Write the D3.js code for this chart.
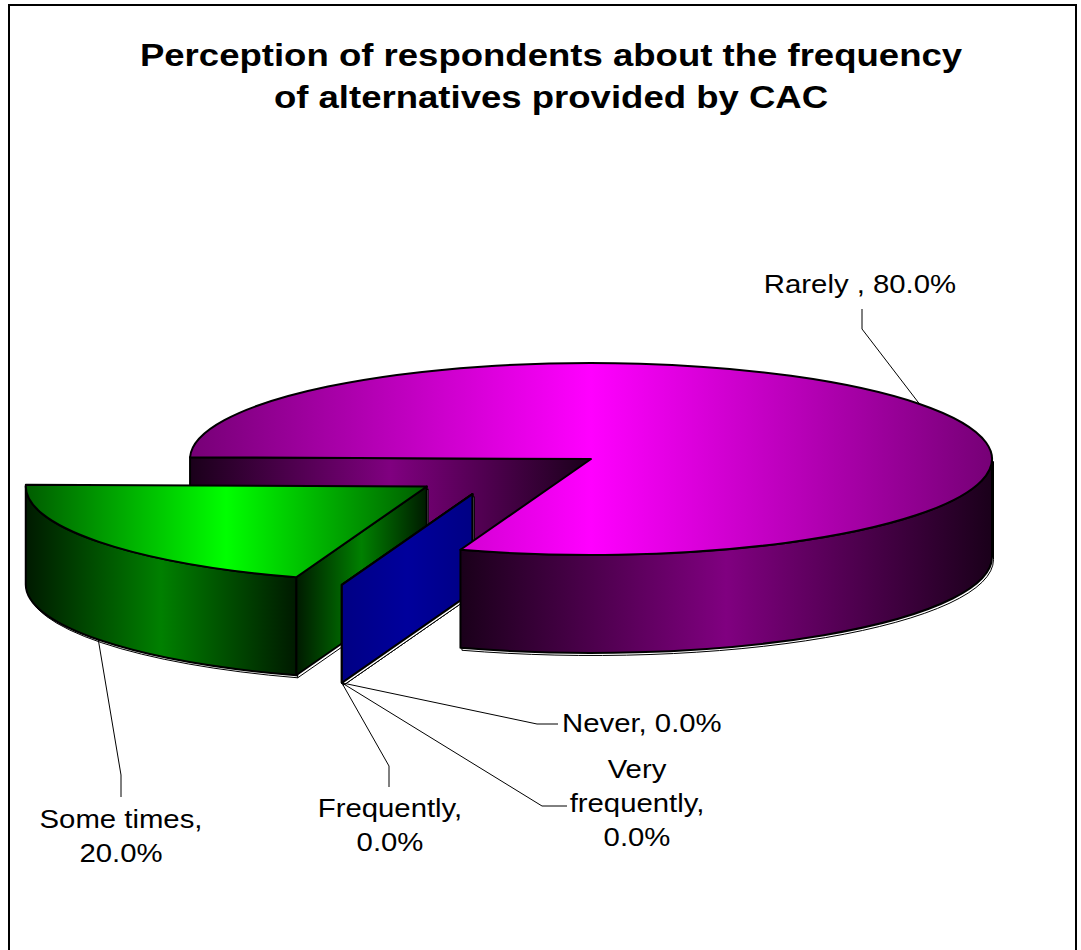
<!DOCTYPE html>
<html>
<head>
<meta charset="utf-8">
<script src="https://cdn.jsdelivr.net/npm/d3@7"></script>
<style>
  html, body { margin: 0; padding: 0; background: #fff; }
</style>
</head>
<body>
<svg id="chart" width="1081" height="950"></svg>
<script>
// Survey: how often CAC provides alternatives (share of respondents, %)
const categories = ["Very frequently", "Frequently", "Some times", "Rarely ", "Never"];
const shares = [0, 0, 20, 80, 0];
const titleLines = [
  "Perception of respondents about the frequency",
  "of alternatives provided by CAC"
];

// ---- styling ---------------------------------------------------------
const FONT = "'Liberation Sans', Arial, sans-serif";
const TEXT_SX = 1.15;                       // horizontal stretch of lettering
const geo = { cx: 591, cy: 459, rx: 401, ry: 96, depth: 98 };
const firstSliceDeg = 199;                  // rotation of first slice, clockwise from 12 o'clock

const blueStyle = { top: ["#000080", "#0000a4"], side: ["#000084", "#00009c"], explode: 0.47, turn: 20 };
const sliceStyle = {
  "Very frequently": blueStyle,
  "Frequently": blueStyle,
  "Some times": { top: ["#005c00", "#00ff00"], side: ["#001a00", "#008000"], explode: 0.5, turn: 0 },
  "Rarely ":    { top: ["#760076", "#ff00ff"], side: ["#1a001a", "#800080"], explode: 0, turn: 0 },
  "Never": blueStyle
};

// label placement: text anchor point, leader elbow and leader end
const labelLayout = {
  "Rarely ":         { anchor: "middle", x: 860, y: 293, elbow: [862, 329], end: [862, 309], from: "top" },
  "Never":           { anchor: "start",  x: 562, y: 732, elbow: [537, 724], end: [558, 724], from: "bottom" },
  "Very frequently": { anchor: "middle", x: 637, y: 778, elbow: [542, 806], end: [567, 806], from: "bottom", wrap: 150 },
  "Frequently":      { anchor: "middle", x: 390, y: 817, elbow: [389, 766], end: [389, 787], from: "bottom", wrap: 150 },
  "Some times":      { anchor: "middle", x: 121, y: 828, elbow: [121, 775], end: [121, 797], from: "bottom", wrap: 180 }
};
const LINE_H = 34;

// ---- setup -----------------------------------------------------------
const svg = d3.select("#chart");
const defs = svg.append("defs");
let gradCount = 0;
function gradient(stops) {
  const id = "shade" + (gradCount++);
  const g = defs.append("linearGradient").attr("id", id)
    .attr("x1", 0).attr("x2", 1).attr("y1", 0).attr("y2", 0);
  g.append("stop").attr("offset", 0).attr("stop-color", stops[0]);
  g.append("stop").attr("offset", 0.5).attr("stop-color", stops[1]);
  g.append("stop").attr("offset", 1).attr("stop-color", stops[0]);
  return `url(#${id})`;
}

// chart border
svg.append("rect")
  .attr("x", 9).attr("y", 5).attr("width", 1067).attr("height", 1000)
  .attr("fill", "none").attr("stroke", "#000").attr("stroke-width", 2);

// title
const titleG = svg.append("g")
  .attr("font-family", FONT).attr("font-weight", "bold").attr("font-size", 31.5)
  .attr("fill", "#000");
titleLines.forEach((t, i) => {
  titleG.append("text")
    .attr("transform", `translate(551,${66 + i * 42}) scale(1.16,1)`)
    .attr("text-anchor", "middle")
    .text(t);
});

// ---- pie layout ------------------------------------------------------
const data = categories.map((c, i) => ({ cat: c, value: shares[i] }));
const a0 = firstSliceDeg * Math.PI / 180;
const pie = d3.pie().sort(null).value(d => d.value)
  .startAngle(a0).endAngle(a0 + 2 * Math.PI);
const arcs = pie(data);
const total = d3.sum(shares);
const pct = d3.format(".1%");

arcs.forEach(a => {
  const st = sliceStyle[a.data.cat];
  a.style = st;
  a.mid = (a.startAngle + a.endAngle) / 2;
  const dir = a.mid + (st.turn || 0) * Math.PI / 180;
  a.ox = geo.cx + geo.rx * st.explode * Math.sin(dir);
  a.oy = geo.cy - geo.ry * st.explode * Math.cos(dir);
});

// point on the rim of a slice, dz pixels down the side wall
const rim = (a, ang, dz = 0) => [a.ox + geo.rx * Math.sin(ang), a.oy - geo.ry * Math.cos(ang) + dz];
const P = p => `${p[0].toFixed(2)},${p[1].toFixed(2)}`;

function topPath(a) {
  const s = rim(a, a.startAngle), e = rim(a, a.endAngle);
  const large = (a.endAngle - a.startAngle) > Math.PI ? 1 : 0;
  return `M${a.ox},${a.oy}L${P(s)}A${geo.rx},${geo.ry} 0 ${large} 1 ${P(e)}Z`;
}
function wallPaths(a) {
  const out = [];
  for (let k = 0; k < 3; k++) {
    const lo = Math.max(a.startAngle, Math.PI / 2 + 2 * Math.PI * k);
    const hi = Math.min(a.endAngle, 3 * Math.PI / 2 + 2 * Math.PI * k);
    if (hi - lo > 1e-6) {
      out.push(`M${P(rim(a, lo))}A${geo.rx},${geo.ry} 0 0 1 ${P(rim(a, hi))}` +
               `L${P(rim(a, hi, geo.depth))}A${geo.rx},${geo.ry} 0 0 0 ${P(rim(a, lo, geo.depth))}Z`);
    }
  }
  return out;
}
function cutPath(a, ang) {
  const r = rim(a, ang), rb = rim(a, ang, geo.depth);
  return `M${a.ox},${a.oy}L${P(r)}L${P(rb)}L${a.ox},${a.oy + geo.depth}Z`;
}
function visibleCuts(a) {
  if (a.endAngle - a.startAngle < 1e-9) return [a.startAngle];
  const cuts = [];
  if (Math.sin(a.startAngle) < 0) cuts.push(a.startAngle);
  if (Math.sin(a.endAngle) > 0) cuts.push(a.endAngle);
  return cuts;
}

const pieG = svg.append("g").attr("stroke-linejoin", "round");
function face(g, d, fill) {
  g.append("path").attr("d", d).attr("fill", fill)
    .attr("stroke", "#000").attr("stroke-width", 2);
}
function shadow(g, paths) {
  paths.forEach(d => g.append("path").attr("d", d)
    .attr("transform", "translate(1.5,2.5)")
    .attr("fill", "#fff").attr("stroke", "#000").attr("stroke-width", 1));
}

const base = arcs.filter(a => a.style.explode === 0);
const exploded = arcs.filter(a => a.style.explode > 0)
  .sort((p, q) => d3.ascending(p.oy, q.oy));

// 1. inner cut faces of the un-exploded slice (furthest back)
base.forEach(a => {
  const g = pieG.append("g");
  visibleCuts(a).forEach(ang => face(g, cutPath(a, ang), gradient(a.style.side)));
});

// 2. exploded slices, back to front
exploded.forEach(a => {
  const g = pieG.append("g");
  const cuts = visibleCuts(a).map(ang => cutPath(a, ang));
  const walls = a.value > 0 ? wallPaths(a) : [];
  shadow(g, walls.concat(cuts));
  cuts.forEach(d => face(g, d, gradient(a.style.side)));
  walls.forEach(d => face(g, d, gradient(a.style.side)));
  if (a.value > 0) face(g, topPath(a), gradient(a.style.top));
});

// 3. outer wall and top of the un-exploded slice
base.forEach(a => {
  const g = pieG.append("g");
  const walls = wallPaths(a);
  shadow(g, walls);
  walls.forEach(d => face(g, d, gradient(a.style.side)));
  face(g, topPath(a), gradient(a.style.top));
});

// ---- data labels -----------------------------------------------------
const labelG = svg.append("g")
  .attr("font-family", FONT).attr("font-size", 25.5).attr("fill", "#000");
const probe = labelG.append("text").attr("visibility", "hidden");
const measure = s => probe.text(s).node().getComputedTextLength() * TEXT_SX;

function wrapText(str, maxW) {
  if (!maxW) return [str];
  const words = str.split(" ");
  const lines = [];
  let line = words[0];
  for (let i = 1; i < words.length; i++) {
    const next = line + " " + words[i];
    if (measure(next) > maxW) { lines.push(line); line = words[i]; }
    else line = next;
  }
  lines.push(line);
  return lines;
}

arcs.forEach(a => {
  const L = labelLayout[a.data.cat];
  const start = L.from === "top" ? rim(a, a.mid) : rim(a, a.mid, geo.depth);
  labelG.append("path")
    .attr("d", `M${P(start)}L${P(L.elbow)}L${P(L.end)}`)
    .attr("fill", "none").attr("stroke", "#000").attr("stroke-width", 1);
  const text = `${a.data.cat}, ${pct(a.data.value / total)}`;
  wrapText(text, L.wrap).forEach((ln, i) => {
    labelG.append("text")
      .attr("transform", `translate(${L.x},${L.y + i * LINE_H}) scale(${TEXT_SX},1)`)
      .attr("text-anchor", L.anchor)
      .text(ln);
  });
});
probe.remove();
</script>
</body>
</html>
